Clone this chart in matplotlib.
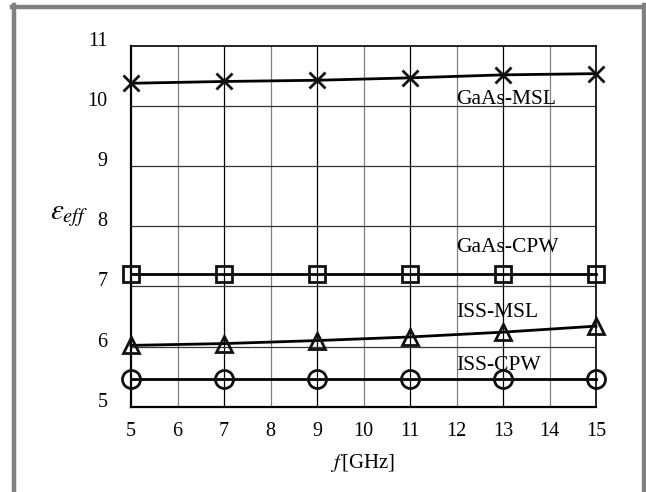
import matplotlib.pyplot as plt
from matplotlib.lines import Line2D

plt.rcParams['font.family'] = ['Liberation Serif', 'DejaVu Serif']
plt.rcParams['mathtext.fontset'] = 'stix'

# frequency points [GHz]
freq = [5, 7, 9, 11, 13, 15]

# effective permittivity for each line type
gaas_msl = [10.38, 10.41, 10.43, 10.47, 10.52, 10.54]
gaas_cpw = [7.20, 7.20, 7.20, 7.20, 7.20, 7.20]
iss_msl = [6.02, 6.05, 6.10, 6.16, 6.24, 6.34]
iss_cpw = [5.46, 5.46, 5.46, 5.46, 5.46, 5.46]

names = ['GaAs-MSL', 'GaAs-CPW', 'ISS-MSL', 'ISS-CPW']
label_y = [10.04, 7.57, 6.50, 5.61]

fig = plt.figure(figsize=(6.46, 4.92), dpi=100)
ax = fig.add_axes([131 / 646, 1 - 406.7 / 492, 465 / 646, 360.7 / 492])

# grid: odd columns black, even ones gray
for x in range(6, 15):
    ax.axvline(x, color='black' if x % 2 else '#808080', lw=0.9, zorder=1)
for y in range(6, 11):
    ax.axhline(y, color='#333333', lw=0.9, zorder=1)

series = [gaas_msl, gaas_cpw, iss_msl, iss_cpw]
marks = ['x', 's', '^', 'o']
sizes = [12, 12, 12, 13]
for vals, m, s in zip(series, marks, sizes):
    ax.plot(freq, vals, color='black', lw=2, marker=m, ms=s,
            mfc='none', mec='#111111', mew=2, clip_on=False, zorder=3)

for name, y in zip(names, label_y):
    ax.text(12.0, y, name, fontsize=15.5, ha='left', va='baseline', zorder=4)

ax.set_xlim(5, 15)
ax.set_ylim(5, 11)
ax.set_xticks(range(5, 16))
ax.set_yticks(range(5, 12))
ax.tick_params(length=0, labelsize=14.5)
ax.tick_params(axis='x', pad=11)
ax.tick_params(axis='y', pad=17)
for lab in ax.get_yticklabels():
    lab.set_va('baseline')

for side in ['left', 'bottom']:
    ax.spines[side].set_linewidth(1.6)
for side in ['top', 'right']:
    ax.spines[side].set_linewidth(1.2)

fig.text(363 / 646, 1 - 463 / 492, r'$f\,$[GHz]', fontsize=15,
         ha='center', va='center')
fig.text(69 / 646, 1 - 216 / 492, r'$\varepsilon_{eff}$', fontsize=21,
         ha='center', va='center')

# gray frame around the figure
fig.add_artist(Line2D([14 / 646, 14 / 646], [0, 1 - 5 / 492], color='#808080',
                      lw=3.2, transform=fig.transFigure))
fig.add_artist(Line2D([12 / 646, 1], [1 - 7 / 492, 1 - 7 / 492], color='#808080',
                      lw=3.2, transform=fig.transFigure))
fig.add_artist(Line2D([644 / 646, 644 / 646], [0, 1 - 5 / 492], color='#808080',
                      lw=3.2, transform=fig.transFigure))

fig.savefig('out.png', dpi=100)
